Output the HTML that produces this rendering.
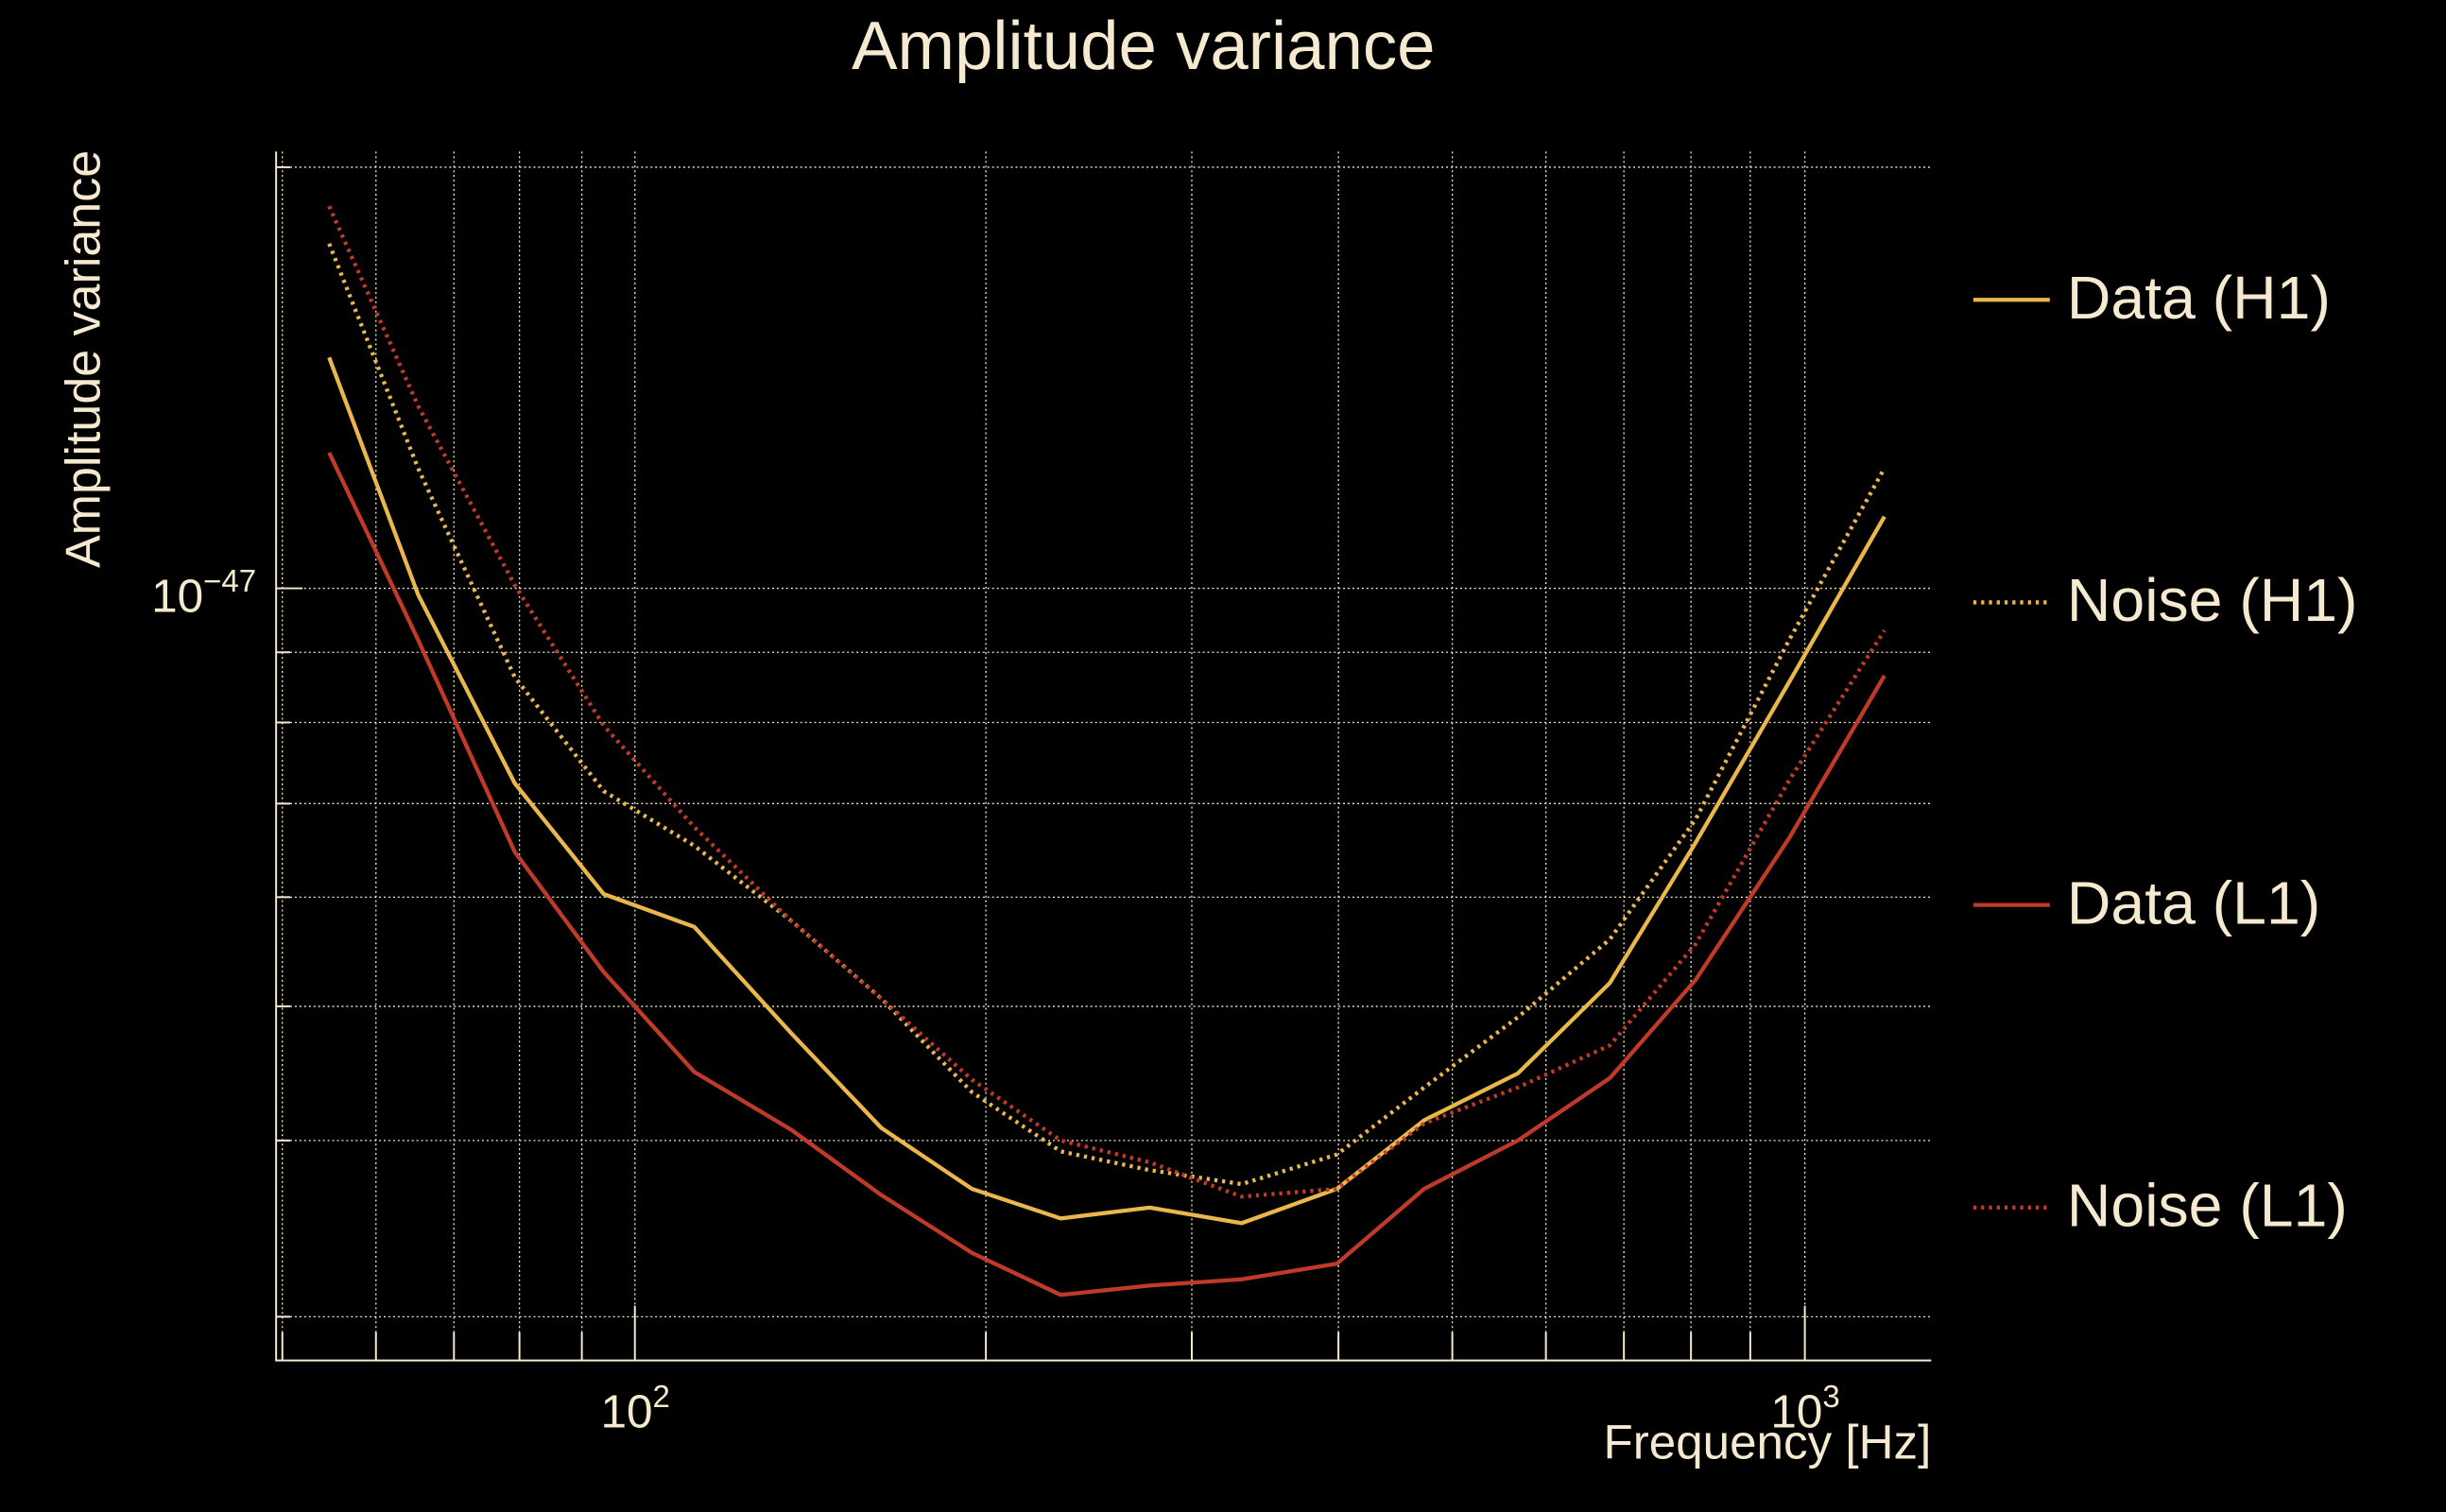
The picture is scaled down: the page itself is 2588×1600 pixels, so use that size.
<!DOCTYPE html>
<html><head><meta charset="utf-8"><style>html,body{margin:0;padding:0;background:#000;}svg{display:block}</style></head>
<body>
<svg width="2588" height="1600" viewBox="0 0 1568 969" xmlns="http://www.w3.org/2000/svg" font-family="Liberation Sans, sans-serif">
<rect width="1568" height="969" fill="#000"/>
<g stroke="#f5e9cf" stroke-width="0.8" stroke-dasharray="1.2,1.8" fill="none">
<path d="M181 97V872M241 97V872M291 97V872M333 97V872M373 97V872M407 97V872M632 97V872M764 97V872M858 97V872M931 97V872M991 97V872M1041 97V872M1084 97V872M1122 97V872M1157 97V872"/>
<path d="M177 107H1238M177 377H1238M177 418H1238M177 463H1238M177 515H1238M177 575H1238M177 645H1238M177 731H1238M177 844H1238"/>
</g>
<g stroke="#f5e9cf" stroke-width="1.2" fill="none">
<path d="M177 97V872H1238"/>
<path d="M177 107h9M177 377h17M177 418h9M177 463h9M177 515h9M177 575h9M177 645h9M177 731h9M177 844h9"/>
<path d="M407 872v-35M1157 872v-35M181 872v-18M241 872v-18M291 872v-18M333 872v-18M373 872v-18M632 872v-18M764 872v-18M858 872v-18M931 872v-18M991 872v-18M1041 872v-18M1084 872v-18M1122 872v-18"/>
</g>
<g fill="none" stroke-width="2.6" stroke-linejoin="round">
<polyline stroke="#e9b74b" points="211,229 268,381 330,502 387,573 445,594 507,662 565,723 623,762 680,781 737,774 796,784 857,762 913,718 973,688 1032,630 1087,540 1147,437 1208,331"/>
<polyline stroke="#c03a29" points="211,290 268,410 330,546 387,623 445,687 507,724 565,766 623,803 680,830 737,824 796,820 857,810 913,762 973,731 1032,691 1087,628 1147,537 1208,433"/>
<polyline stroke="#e9b74b" stroke-dasharray="2,3" points="211,156 268,300 330,434 387,507 445,542 507,590 565,640 623,700 680,738 737,750 796,759 857,740 913,697 973,652 1032,602 1087,525 1147,410 1208,300"/>
<polyline stroke="#c03a29" stroke-dasharray="2,3" points="211,132 268,260 330,375 387,465 445,530 507,590 565,640 623,692 680,731 737,745 796,767 857,762 913,720 973,697 1032,670 1087,605 1147,500 1208,404"/>
</g>
<g fill="#f5e9cf">
<text x="733" y="44" font-size="44" text-anchor="middle">Amplitude variance</text>
<text transform="translate(64,230) rotate(-90)" font-size="31.5" text-anchor="middle">Amplitude variance</text>
<text x="97" y="392" font-size="30">10<tspan font-size="20" dy="-13">−47</tspan></text>
<text x="385" y="915" font-size="30">10<tspan font-size="20" dy="-13">2</tspan></text>
<text x="1135" y="915" font-size="30">10<tspan font-size="20" dy="-13">3</tspan></text>
<text x="1238" y="935" font-size="31" text-anchor="end">Frequency [Hz]</text>
<text x="1325" y="204" font-size="39">Data (H1)</text>
<text x="1325" y="398" font-size="39">Noise (H1)</text>
<text x="1325" y="592" font-size="39">Data (L1)</text>
<text x="1325" y="786" font-size="39">Noise (L1)</text>
</g>
<g stroke-width="2.6">
<line x1="1265" y1="192" x2="1314" y2="192" stroke="#e9b74b"/>
<line x1="1265" y1="386" x2="1314" y2="386" stroke="#e9b74b" stroke-dasharray="2,3"/>
<line x1="1265" y1="580" x2="1314" y2="580" stroke="#c03a29"/>
<line x1="1265" y1="774" x2="1314" y2="774" stroke="#c03a29" stroke-dasharray="2,3"/>
</g>
</svg>
</body></html>
